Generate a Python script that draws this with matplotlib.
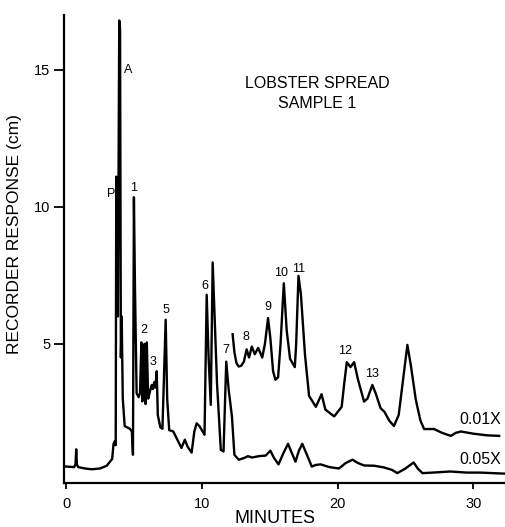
import matplotlib
matplotlib.use("Agg")
import matplotlib.pyplot as plt

plt.rcParams['font.family'] = ['Liberation Sans', 'DejaVu Sans']

# 0.05X trace: retention time (min) and recorder response (cm)
low_t = [0.0, 0.6, 0.7, 0.75, 0.8, 0.9, 1.4, 1.9, 2.5, 3.0, 3.4, 3.5, 3.6, 3.66,
         3.7, 3.76, 3.82, 3.92, 3.98, 4.04, 4.1, 4.18, 4.32, 4.5, 4.7, 4.85, 4.93,
         5.0, 5.08, 5.2, 5.35, 5.45, 5.55, 5.62, 5.7, 5.78, 5.86, 5.95, 6.05, 6.2,
         6.32, 6.4, 6.5, 6.58, 6.68, 6.76, 6.95, 7.1, 7.34, 7.45, 7.6, 7.9, 8.1,
         8.5, 8.75, 8.95, 9.25, 9.45, 9.62, 9.85, 10.2, 10.36, 10.5, 10.66, 10.8,
         11.12, 11.4, 11.6, 11.8, 11.98, 12.22, 12.4, 12.72, 13.1, 13.4, 13.7, 14.2,
         14.7, 15.05, 15.3, 15.65, 16.0, 16.35, 16.6, 16.9, 17.15, 17.4, 17.7, 18.1,
         18.4, 18.75, 19.4, 20.1, 20.6, 21.1, 21.5, 21.95, 22.7, 23.4, 24.0, 24.4,
         25.0, 25.6, 25.9, 26.25, 27.0, 28.3, 29.5, 30.5, 32.4]
low_y = [0.52, 0.5, 0.6, 1.15, 0.6, 0.5, 0.45, 0.42, 0.45, 0.55, 0.8, 1.35, 1.45, 1.3,
         11.1, 10.9, 6.0, 16.8, 16.5, 4.5, 6.0, 3.0, 2.0, 1.95, 1.9, 1.8, 0.95,
         10.35, 7.0, 3.2, 3.05, 3.2, 5.05, 2.9, 4.0, 5.0, 2.8, 5.05, 3.0, 3.3,
         3.5, 3.35, 3.6, 3.4, 4.0, 2.4, 1.95, 1.9, 5.88, 3.0, 1.85, 1.8, 1.6,
         1.2, 1.5, 1.25, 1.03, 1.8, 2.1, 1.98, 1.68, 6.79, 4.5, 2.77, 7.97,
         3.56, 1.13, 1.07, 4.35, 3.32, 2.35, 0.95, 0.77, 0.83, 0.9, 0.85, 0.9,
         0.92, 1.1, 0.85, 0.6, 1.0, 1.35, 1.05, 0.7, 1.1, 1.35, 1.0, 0.52,
         0.58, 0.6, 0.5, 0.45, 0.65, 0.77, 0.65, 0.56, 0.55, 0.49, 0.4, 0.28,
         0.45, 0.67, 0.45, 0.28, 0.3, 0.34, 0.3, 0.3, 0.26]

# 0.01X trace
high_t = [12.27, 12.4, 12.55, 12.72, 12.9, 13.1, 13.3, 13.48, 13.68, 13.9, 14.15,
          14.45, 14.65, 14.88, 15.05, 15.25, 15.42, 15.62, 15.8, 16.04, 16.25,
          16.5, 16.85, 16.95, 17.12, 17.3, 17.6, 17.9, 18.4, 18.82, 19.1, 19.75,
          20.3, 20.5, 20.68, 20.95, 21.22, 21.5, 21.95, 22.2, 22.56, 22.8, 23.17,
          23.45, 23.8, 24.15, 24.5, 24.85, 25.14, 25.4, 25.76, 26.1, 26.37, 27.1,
          27.7, 28.34, 28.7, 29.08, 30.0, 31.0, 31.9]
high_y = [5.35, 4.7, 4.3, 4.17, 4.2, 4.35, 4.8, 4.5, 4.9, 4.62, 4.85,
          4.5, 5.0, 5.94, 5.2, 4.0, 3.69, 3.78, 5.0, 7.21, 5.5,
          4.45, 4.15, 5.0, 7.48, 6.8, 4.6, 3.1, 2.7, 3.16, 2.6, 2.35,
          2.7, 3.6, 4.33, 4.15, 4.33, 3.7, 2.89, 3.0, 3.5, 3.2, 2.65,
          2.52, 2.2, 2.0, 2.4, 3.8, 4.96, 4.2, 2.96, 2.2, 1.89, 1.89,
          1.75, 1.64, 1.75, 1.8, 1.72, 1.66, 1.64]

# peak labels
peak_names = ['P', 'A', '1', '2', '3', '5', '6', '7', '8', '9', '10', '11', '12', '13']
peak_t = [3.35, 4.58, 4.94, 5.7, 6.44, 7.38, 10.26, 11.74, 13.28, 14.86, 15.84, 17.1, 20.52, 22.51]
peak_y = [10.47, 15.0, 10.7, 5.51, 4.35, 6.24, 7.12, 4.78, 5.24, 6.36, 7.6, 7.72, 4.72, 3.9]

fig = plt.figure(figsize=(5.05, 5.27), dpi=100)
ax = fig.add_axes([0.1267, 0.084, 0.8733, 0.8875])

ax.plot(low_t, low_y, color='black', lw=1.7, solid_joinstyle='round')
ax.plot(high_t, high_y, color='black', lw=1.7, solid_joinstyle='round')

for name, t, y in zip(peak_names, peak_t, peak_y):
    ax.text(t, y, name, fontsize=9, ha='center', va='center')

ax.text(30.52, 2.25, '0.01X', fontsize=11.5, ha='center', va='center')
ax.text(30.52, 0.76, '0.05X', fontsize=11.5, ha='center', va='center')
ax.text(18.48, 14.13, 'LOBSTER SPREAD\nSAMPLE 1', fontsize=11.5, ha='center', va='center',
        linespacing=1.4)

ax.set_xlim(-0.15, 32.33)
ax.set_ylim(-0.07, 17.0)
ax.set_xticks([0, 10, 20, 30])
ax.set_yticks([5, 10, 15])
ax.tick_params(axis='y', direction='out', length=7, width=1.3, labelsize=10.5, pad=3)
ax.tick_params(axis='x', direction='out', length=4, width=1.3, labelsize=10.5, pad=6)
for side in ['top', 'right']:
    ax.spines[side].set_visible(False)
for side in ['left', 'bottom']:
    ax.spines[side].set_linewidth(1.6)

ax.set_xlabel('MINUTES', fontsize=13)
ax.xaxis.set_label_coords(0.478, -0.058)
ax.set_ylabel('RECORDER RESPONSE (cm)', fontsize=12.5)
ax.yaxis.set_label_coords(-0.095, 0.532)

fig.savefig('out.png', dpi=100)
